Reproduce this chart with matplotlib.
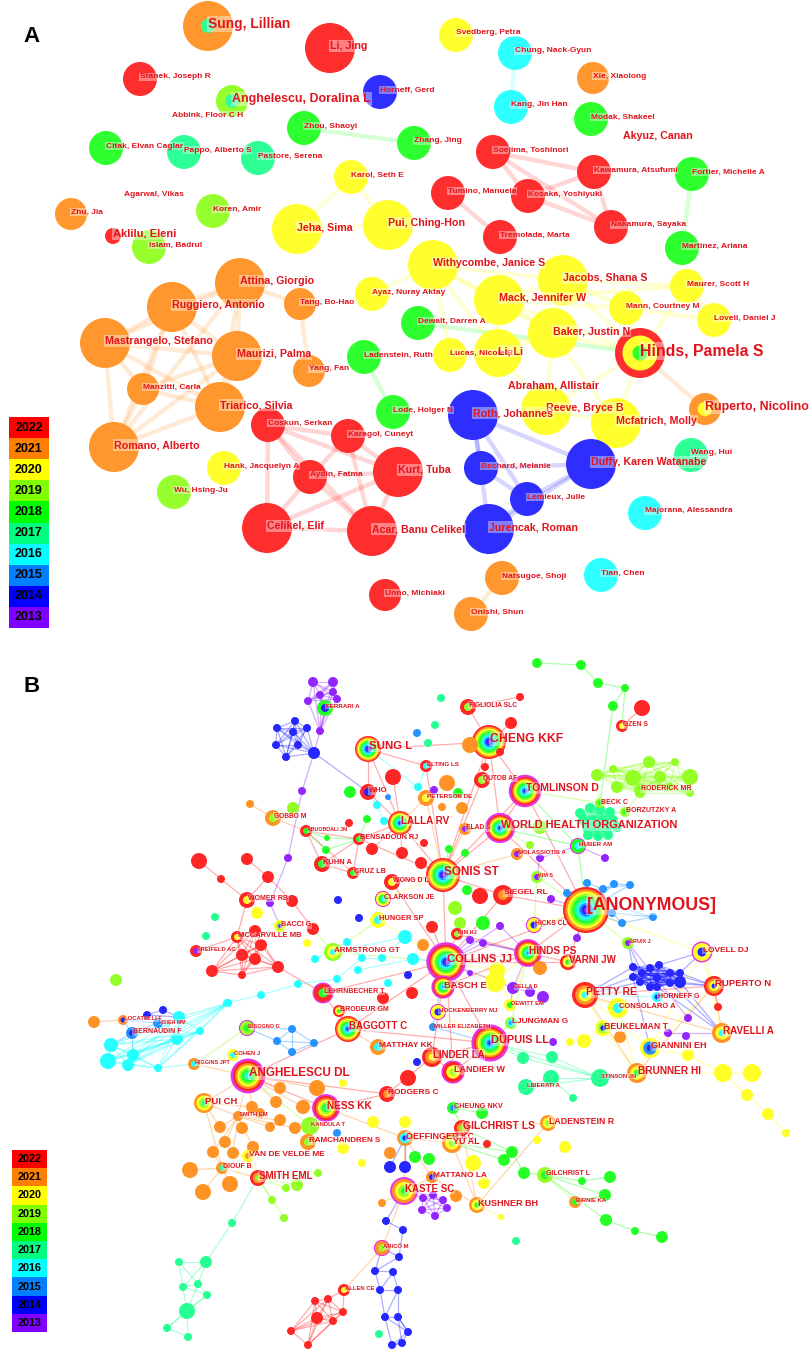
import matplotlib
matplotlib.use("Agg")
import matplotlib.pyplot as plt
from matplotlib.patches import Circle, Rectangle
from matplotlib.collections import LineCollection
from matplotlib.colors import to_rgb

# ---------------- data ----------------
YEARS = [2022, 2021, 2020, 2019, 2018, 2017, 2016, 2015, 2014, 2013]
YEAR_COLORS = ['#FF0000', '#FF8000', '#FFFF00', '#80FF00', '#00FF00',
               '#00FF80', '#00FFFF', '#0080FF', '#0000FF', '#8000FF']
COL = dict(zip(YEARS, YEAR_COLORS))
LABEL_RED = '#E0141E'
FONT = 'Liberation Sans'

# Panel A: author network (name -> year of first appearance)
A_YEARS = {
    'Sung, Lillian': 2021, 'Li, Jing': 2022, 'Stanek, Joseph R': 2022, 'Horneff, Gerd': 2014,
    'Anghelescu, Doralina L': 2019, 'Abbink, Floor C H': None, 'Zhou, Shaoyi': 2018,
    'Citak, Elvan Caglar': 2018, 'Pappo, Alberto S': 2017, 'Pastore, Serena': 2017,
    'Karol, Seth E': 2020, 'Agarwal, Vikas': None, 'Zhu, Jia': 2021, 'Koren, Amir': 2019,
    'Jeha, Sima': 2020, 'Pui, Ching-Hon': 2020, 'Aklilu, Eleni': 2022, 'Islam, Badrul': 2019,
    'Attina, Giorgio': 2021, 'Ruggiero, Antonio': 2021, 'Tang, Bo-Hao': 2021,
    'Ayaz, Nuray Aktay': 2020, 'Mastrangelo, Stefano': 2021, 'Maurizi, Palma': 2021,
    'Manzitti, Carla': 2021, 'Yang, Fan': 2021, 'Ladenstein, Ruth': 2018,
    'Triarico, Silvia': 2021, 'Romano, Alberto': 2021, 'Coskun, Serkan': 2022,
    'Karagol, Cuneyt': 2022, 'Lode, Holger N': 2018, 'Kurt, Tuba': 2022,
    'Hank, Jacquelyn A': 2020, 'Aydin, Fatma': 2022, 'Wu, Hsing-Ju': 2019,
    'Celikel, Elif': 2022, 'Acar, Banu Celikel': 2022, 'Unno, Michiaki': 2022,
    'Svedberg, Petra': 2020, 'Chung, Nack-Gyun': 2016, 'Xie, Xiaolong': 2021,
    'Kang, Jin Han': 2016, 'Modak, Shakeel': 2018, 'Akyuz, Canan': None,
    'Zhang, Jing': 2018, 'Soejima, Toshinori': 2022, 'Kawamura, Atsufumi': 2022,
    'Fortier, Michelle A': 2018, 'Tumino, Manuela': 2022, 'Kosaka, Yoshiyuki': 2022,
    'Tremolada, Marta': 2022, 'Nakamura, Sayaka': 2022, 'Martinez, Ariana': 2018,
    'Withycombe, Janice S': 2020, 'Jacobs, Shana S': 2020, 'Maurer, Scott H': 2020,
    'Mack, Jennifer W': 2020, 'Mann, Courtney M': 2020, 'Lovell, Daniel J': 2020,
    'Dewalt, Darren A': 2018, 'Baker, Justin N': 2020, 'Hinds, Pamela S': 2022,
    'Lucas, Nicole R': 2020, 'Li, Li': 2020, 'Abraham, Allistair': None,
    'Reeve, Bryce B': 2020, 'Mcfatrich, Molly': 2020, 'Ruperto, Nicolino': 2021,
    'Roth, Johannes': 2014, 'Wang, Hui': 2017, 'Bechard, Melanie': 2014,
    'Duffy, Karen Watanabe': 2014, 'Lemieux, Julie': 2014, 'Majorana, Alessandra': 2016,
    'Jurencak, Roman': 2014, 'Natsugoe, Shoji': 2021, 'Tian, Chen': 2016, 'Onishi, Shun': 2021,
}
A_INNER = {
    'Sung, Lillian': [(2017, 0.28)],
    'Anghelescu, Doralina L': [(2017, 0.42)],
    'Hinds, Pamela S': [(2020, 0.70), (2018, 0.30)],
    'Ruperto, Nicolino': [(2020, 0.45)],
}
A_EDGES = [
    ('Ruggiero, Antonio', 'Attina, Giorgio'), ('Ruggiero, Antonio', 'Mastrangelo, Stefano'),
    ('Ruggiero, Antonio', 'Maurizi, Palma'), ('Ruggiero, Antonio', 'Triarico, Silvia'),
    ('Ruggiero, Antonio', 'Romano, Alberto'), ('Ruggiero, Antonio', 'Manzitti, Carla'),
    ('Attina, Giorgio', 'Maurizi, Palma'), ('Attina, Giorgio', 'Triarico, Silvia'),
    ('Attina, Giorgio', 'Mastrangelo, Stefano'), ('Attina, Giorgio', 'Tang, Bo-Hao'),
    ('Attina, Giorgio', 'Romano, Alberto'), ('Mastrangelo, Stefano', 'Maurizi, Palma'),
    ('Mastrangelo, Stefano', 'Romano, Alberto'), ('Mastrangelo, Stefano', 'Manzitti, Carla'),
    ('Mastrangelo, Stefano', 'Triarico, Silvia'), ('Maurizi, Palma', 'Triarico, Silvia'),
    ('Maurizi, Palma', 'Manzitti, Carla'), ('Maurizi, Palma', 'Romano, Alberto'),
    ('Triarico, Silvia', 'Romano, Alberto'), ('Manzitti, Carla', 'Romano, Alberto'),
    ('Manzitti, Carla', 'Triarico, Silvia'), ('Tang, Bo-Hao', 'Yang, Fan'),
    ('Coskun, Serkan', 'Karagol, Cuneyt'), ('Coskun, Serkan', 'Aydin, Fatma'),
    ('Coskun, Serkan', 'Celikel, Elif'), ('Coskun, Serkan', 'Acar, Banu Celikel'),
    ('Coskun, Serkan', 'Kurt, Tuba'), ('Karagol, Cuneyt', 'Aydin, Fatma'),
    ('Karagol, Cuneyt', 'Kurt, Tuba'), ('Karagol, Cuneyt', 'Acar, Banu Celikel'),
    ('Aydin, Fatma', 'Celikel, Elif'), ('Aydin, Fatma', 'Acar, Banu Celikel'),
    ('Aydin, Fatma', 'Kurt, Tuba'), ('Celikel, Elif', 'Acar, Banu Celikel'),
    ('Celikel, Elif', 'Kurt, Tuba'), ('Acar, Banu Celikel', 'Kurt, Tuba'),
    ('Roth, Johannes', 'Bechard, Melanie'), ('Roth, Johannes', 'Jurencak, Roman'),
    ('Roth, Johannes', 'Duffy, Karen Watanabe'), ('Roth, Johannes', 'Lemieux, Julie'),
    ('Bechard, Melanie', 'Duffy, Karen Watanabe'), ('Bechard, Melanie', 'Lemieux, Julie'),
    ('Lemieux, Julie', 'Duffy, Karen Watanabe'), ('Jurencak, Roman', 'Duffy, Karen Watanabe'),
    ('Jurencak, Roman', 'Lemieux, Julie'),
    ('Withycombe, Janice S', 'Mack, Jennifer W'), ('Withycombe, Janice S', 'Jacobs, Shana S'),
    ('Withycombe, Janice S', 'Baker, Justin N'), ('Withycombe, Janice S', 'Ayaz, Nuray Aktay'),
    ('Withycombe, Janice S', 'Li, Li'), ('Withycombe, Janice S', 'Lucas, Nicole R'),
    ('Jacobs, Shana S', 'Mack, Jennifer W'), ('Jacobs, Shana S', 'Baker, Justin N'),
    ('Jacobs, Shana S', 'Maurer, Scott H'), ('Jacobs, Shana S', 'Mann, Courtney M'),
    ('Mack, Jennifer W', 'Baker, Justin N'), ('Mack, Jennifer W', 'Li, Li'),
    ('Mack, Jennifer W', 'Mann, Courtney M'), ('Mack, Jennifer W', 'Maurer, Scott H'),
    ('Baker, Justin N', 'Hinds, Pamela S'), ('Baker, Justin N', 'Li, Li'),
    ('Baker, Justin N', 'Lucas, Nicole R'), ('Baker, Justin N', 'Reeve, Bryce B'),
    ('Baker, Justin N', 'Mcfatrich, Molly'), ('Mack, Jennifer W', 'Hinds, Pamela S'),
    ('Jacobs, Shana S', 'Hinds, Pamela S'), ('Mann, Courtney M', 'Hinds, Pamela S'),
    ('Maurer, Scott H', 'Hinds, Pamela S'), ('Hinds, Pamela S', 'Ruperto, Nicolino'),
    ('Reeve, Bryce B', 'Hinds, Pamela S'), ('Mcfatrich, Molly', 'Hinds, Pamela S'),
    ('Reeve, Bryce B', 'Mcfatrich, Molly'), ('Li, Li', 'Reeve, Bryce B'),
    ('Karol, Seth E', 'Jeha, Sima'), ('Karol, Seth E', 'Pui, Ching-Hon'),
    ('Jeha, Sima', 'Pui, Ching-Hon'), ('Maurer, Scott H', 'Lovell, Daniel J'),
    ('Mann, Courtney M', 'Lovell, Daniel J'), ('Lucas, Nicole R', 'Li, Li'),
    ('Zhou, Shaoyi', 'Zhang, Jing'), ('Ladenstein, Ruth', 'Lode, Holger N'),
    ('Fortier, Michelle A', 'Martinez, Ariana'), ('Dewalt, Darren A', 'Hinds, Pamela S'),
    ('Chung, Nack-Gyun', 'Kang, Jin Han'),
    ('Soejima, Toshinori', 'Kawamura, Atsufumi'), ('Soejima, Toshinori', 'Kosaka, Yoshiyuki'),
    ('Soejima, Toshinori', 'Nakamura, Sayaka'), ('Kosaka, Yoshiyuki', 'Kawamura, Atsufumi'),
    ('Kosaka, Yoshiyuki', 'Nakamura, Sayaka'), ('Kawamura, Atsufumi', 'Nakamura, Sayaka'),
    ('Tumino, Manuela', 'Tremolada, Marta'), ('Natsugoe, Shoji', 'Onishi, Shun'),
]

# Panel B: cited reference network (name -> ring years, outer to inner)
def span(hi, lo):
    return list(range(hi, lo - 1, -1))

B_RINGS = {
    'FERRARI A': [2018, 2014], 'SUNG L': span(2022, 2013), 'ELTING LS': [2022, 2016],
    'WHO': [2022, 2014], 'GOBBO M': [2021, 2019], 'LALLA RV': span(2022, 2014),
    'ABUOBDALI JM': [2022, 2018], 'BENSADOUN RJ': [2022, 2018], 'KUHN A': [2022, 2018],
    'CRUZ LB': [2022, 2018], 'WONG D L': [2022, 2020], 'CLARKSON JE': [2020, 2018, 2016],
    'WOMER RB': [2022, 2020], 'HUNGER SP': [2020, 2016], 'BACCI G': [2020, 2019, 2013],
    'MCCARVILLE MB': [2022, 2020], 'FREIFELD AG': [2022, 2013], 'ARMSTRONG GT': [2019, 2020, 2016],
    'LEHRNBECHER T': [2022, 2018], 'COLLINS JJ': span(2022, 2013), 'SONIS ST': span(2022, 2013),
    'FIGLIOLIA SLC': [2022, 2019], 'OZEN S': [2022, 2020], 'CHENG KKF': span(2022, 2013),
    'QUTOB AF': [2022, 2019], 'TOMLINSON D': span(2022, 2014), 'PETERSON DE': [2021, 2020],
    'RODERICK MR': [2019, 2018], 'BECK C': [2019, 2018], 'BORZUTZKY A': [2019, 2018],
    'WORLD HEALTH ORGANIZATION': span(2022, 2014), 'ELAD S': [2021, 2013],
    'HUBER AM': [2018, 2016], 'MOLASSIOTIS A': [2021, 2013], 'KIM S': [2019, 2013],
    'SIEGEL RL': [2022, 2021], '[ANONYMOUS]': span(2022, 2013), 'HICKS CL': [2020, 2014],
    'KIM HJ': [2022, 2019], 'BRUIX J': [2019, 2013], 'LOVELL DJ': [2020, 2014],
    'HINDS PS': span(2022, 2015), 'VARNI JW': [2022, 2020, 2018], 'BASCH E': span(2022, 2015),
    'CELLA D': [2013], 'PETTY RE': [2022, 2021, 2020, 2016], 'RUPERTO N': [2022, 2021, 2020, 2014],
    'HORNEFF G': [2016, 2014], 'CONSOLARO A': [2020, 2016], 'DEWITT EM': [2020, 2018],
    'HOCKENBERRY MJ': [2020, 2014], 'LJUNGMAN G': [2019, 2016, 2015], 'MILLER ELIZABETH': [2015],
    'BEUKELMAN T': [2020, 2019, 2014], 'RAVELLI A': [2021, 2020, 2016], 'DUPUIS LL': span(2022, 2014),
    'GIANNINI EH': [2020, 2015, 2014], 'LINDER LA': [2022, 2021, 2020], 'BRUNNER HI': [2021, 2020, 2018],
    'STINSON JN': [2017], 'LANDIER W': [2022, 2020, 2019], 'LIBERATI A': [2017],
    'CHEUNG NKV': [2018, 2015], 'LADENSTEIN R': [2021, 2020, 2019], 'GILCHRIST LS': [2022, 2021, 2019],
    'OEFFINGER KC': [2021, 2016, 2014], 'YU AL': [2021, 2020, 2019], 'MATTANO LA': [2021, 2014],
    'GILCHRIST L': [2019, 2018], 'KASTE SC': [2021, 2020, 2019, 2018], 'KUSHNER BH': [2021, 2020, 2018],
    'BIRNIE KA': [2021, 2018], 'LOCATELLI F': [2021, 2014], 'HSIEH MM': [2015],
    'BERNAUDIN F': [2015, 2014], 'BISOGNO G': [2019, 2018], 'BRODEUR GM': [2022, 2020, 2018],
    'BAGGOTT C': span(2022, 2014), 'MATTHAY KK': [2021, 2016], 'COHEN J': [2020, 2016],
    'HIGGINS JPT': [2021, 2016], 'ANGHELESCU DL': span(2022, 2016), 'PUI CH': [2021, 2020, 2019, 2017],
    'RODGERS C': [2022, 2021], 'NESS KK': span(2022, 2017), 'SMITH EM': [2021],
    'KANDULA T': [2019], 'RAMCHANDREN S': [2021, 2019], 'VAN DE VELDE ME': [2020, 2021],
    'DIOUF B': [2021, 2017], 'SMITH EML': [2022, 2021, 2019], 'ARICÒ M': [2021, 2019],
    'ALLEN CE': [2022, 2020],
}
B_CENTRAL = ['CLARKSON JE', 'LEHRNBECHER T', 'COLLINS JJ', 'TOMLINSON D', 'WORLD HEALTH ORGANIZATION',
             'HUBER AM', 'HICKS CL', 'LOVELL DJ', 'HINDS PS', 'BASCH E', 'HOCKENBERRY MJ',
             'DUPUIS LL', 'LANDIER W', 'KASTE SC', 'BISOGNO G', 'ANGHELESCU DL', 'NESS KK', 'ARICÒ M']

B_GROUP_YEARS = {
    'top_purple': 2013, 'top_blue': 2014, 'purple_chain': 2013, 'top_green': 2018, 'top_red': 2022,
    'lime': 2019, 'teal': 2017, 'anon_blue': 2015, 'right_blue': 2014, 'left_red': 2022,
    'left_red2': 2022, 'mid_red': 2022, 'mid_green': 2018, 'mid_lime': 2019, 'cyan_mid': 2016,
    'cyan_left': 2016, 'blue_left': 2014, 'blue15': 2015, 'misc15': 2015, 'misc_blue': 2014,
    'purple_mid': 2013, 'yellow_mid': 2020, 'yellow_right': 2020, 'teal_mid': 2017,
    'green_low': 2018, 'orange_mid': 2021, 'orange_cl': 2021, 'lime_low': 2019,
    'purple_low': 2013, 'blue_col': 2014, 'red_low': 2022, 'teal_low': 2017,
}
B_GROUP_MODE = {'top_purple': 'clique', 'top_blue': 'clique', 'purple_chain': 'chain',
                'top_green': 'chain', 'lime': 'clique', 'teal': 'clique', 'anon_blue': 'chain',
                'right_blue': 'clique', 'left_red2': 'clique', 'cyan_left': 'clique',
                'blue_left': 'chain', 'blue15': 'clique', 'purple_low': 'clique',
                'blue_col': 'chain', 'red_low': 'clique', 'teal_low': 'chain'}

B_EDGES = []
def hub(center, others):
    for o in others:
        B_EDGES.append((center, o))

hub('COLLINS JJ', ['SONIS ST', 'BASCH E', 'HINDS PS', 'DUPUIS LL', 'LINDER LA', 'HUNGER SP',
                   'ARMSTRONG GT', 'KIM HJ', 'HOCKENBERRY MJ', 'CELLA D', '[ANONYMOUS]',
                   'LEHRNBECHER T', 'BAGGOTT C', 'WONG D L', 'SIEGEL RL', 'MILLER ELIZABETH',
                   'LANDIER W', 'VARNI JW', 'purple_mid:5', 'purple_mid:6', 'purple_mid:7',
                   'purple_mid:8', 'yellow_mid:2', 'yellow_mid:3', 'mid_red:6', 'cyan_mid:10'])
hub('SONIS ST', ['LALLA RV', 'WORLD HEALTH ORGANIZATION', 'TOMLINSON D', 'ELAD S', 'PETERSON DE',
                 'CHENG KKF', 'BENSADOUN RJ', 'QUTOB AF', 'SIEGEL RL', 'CLARKSON JE', 'WONG D L',
                 'ELTING LS', 'MOLASSIOTIS A', 'mid_red:3', 'mid_green:4'])
hub('[ANONYMOUS]', ['HICKS CL', 'SIEGEL RL', 'HINDS PS', 'LOVELL DJ', 'BRUIX J', 'KIM S', 'HUBER AM',
                    'WORLD HEALTH ORGANIZATION', 'VARNI JW', 'TOMLINSON D', 'purple_mid:2',
                    'purple_mid:3'] + ['anon_blue:%d' % i for i in range(8)])
hub('SUNG L', ['WHO', 'LALLA RV', 'ELTING LS', 'CHENG KKF', 'cyan_mid:2'])
hub('CHENG KKF', ['FIGLIOLIA SLC', 'QUTOB AF', 'TOMLINSON D', 'WORLD HEALTH ORGANIZATION',
                  'orange_mid:0', 'top_red:2', 'top_red:3'])
hub('TOMLINSON D', ['WORLD HEALTH ORGANIZATION', 'HUBER AM', 'BECK C'])
hub('HINDS PS', ['VARNI JW', 'CELLA D', 'DEWITT EM', 'BASCH E', 'LJUNGMAN G', 'purple_mid:5',
                 'purple_mid:6', 'purple_mid:8', 'yellow_mid:2', 'KIM HJ'])
hub('DUPUIS LL', ['LINDER LA', 'LANDIER W', 'BAGGOTT C', 'LJUNGMAN G', 'MILLER ELIZABETH',
                  'HOCKENBERRY MJ', 'STINSON JN', 'teal_mid:2', 'teal_mid:3'])
hub('PETTY RE', ['RUPERTO N', 'RAVELLI A', 'BEUKELMAN T', 'GIANNINI EH', 'CONSOLARO A', 'BRUNNER HI',
                 'HORNEFF G', 'right_blue:0', 'right_blue:9', 'right_blue:10'])
hub('RUPERTO N', ['RAVELLI A', 'LOVELL DJ', 'GIANNINI EH', 'BRUNNER HI', 'right_blue:4',
                  'right_blue:5', 'right_blue:6', 'right_blue:12', 'mid_red:10'])
hub('LOVELL DJ', ['RAVELLI A', 'GIANNINI EH', 'right_blue:3', 'right_blue:5'])
hub('BRUNNER HI', ['GIANNINI EH', 'BEUKELMAN T', 'STINSON JN', 'CONSOLARO A', 'yellow_right:0'])
hub('RAVELLI A', ['right_blue:6', 'right_blue:11', 'right_blue:12', 'purple_mid:12'])
hub('ANGHELESCU DL', ['PUI CH', 'NESS KK', 'SMITH EM', 'BAGGOTT C', 'RODGERS C', 'COHEN J',
                      'HIGGINS JPT', 'KANDULA T'] + ['orange_cl:%d' % i for i in range(5)])
hub('NESS KK', ['RAMCHANDREN S', 'KANDULA T', 'RODGERS C', 'OEFFINGER KC', 'orange_cl:1',
                'orange_cl:4', 'orange_cl:10'])
hub('PUI CH', ['SMITH EM', 'DIOUF B', 'orange_cl:8', 'orange_cl:3'])
hub('SMITH EM', ['orange_cl:%d' % i for i in range(5, 15)])
hub('DIOUF B', ['orange_cl:15', 'orange_cl:16', 'orange_cl:17', 'orange_cl:12'])
hub('VAN DE VELDE ME', ['orange_cl:13', 'orange_cl:14', 'orange_cl:16', 'SMITH EML'])
hub('KASTE SC', ['OEFFINGER KC', 'MATTANO LA', 'ARICÒ M', 'blue_col:0', 'purple_low:0',
                 'purple_low:1', 'orange_mid:11'])
hub('OEFFINGER KC', ['misc_blue:4', 'misc_blue:5', 'YU AL', 'MATTANO LA'])
hub('LINDER LA', ['RODGERS C', 'LANDIER W'])
hub('GILCHRIST LS', ['YU AL', 'CHEUNG NKV', 'KUSHNER BH', 'LADENSTEIN R', 'green_low:1'])
hub('KUSHNER BH', ['YU AL', 'LADENSTEIN R', 'MATTANO LA', 'yellow_mid:11'])
hub('SMITH EML', ['DIOUF B', 'teal_low:0'] + ['lime_low:%d' % i for i in range(5)])
hub('BAGGOTT C', ['MATTHAY KK', 'BRODEUR GM', 'LEHRNBECHER T'])
hub('HUNGER SP', ['ARMSTRONG GT', 'CLARKSON JE'])
hub('KUHN A', ['BENSADOUN RJ', 'CRUZ LB', 'ABUOBDALI JM'])
hub('ABUOBDALI JM', ['BENSADOUN RJ', 'CRUZ LB', 'GOBBO M', 'mid_green:2', 'mid_green:3'])
hub('BENSADOUN RJ', ['CRUZ LB', 'LALLA RV', 'mid_green:1', 'mid_green:2', 'mid_green:3'])
hub('LALLA RV', ['WHO', 'mid_red:0', 'mid_red:1', 'mid_red:2', 'PETERSON DE'])
hub('WOMER RB', ['MCCARVILLE MB', 'left_red:1', 'left_red:3'])
hub('MCCARVILLE MB', ['FREIFELD AG'] + ['left_red2:%d' % i for i in range(7)])
hub('LOCATELLI F', ['HSIEH MM', 'BERNAUDIN F', 'orange_mid:9'])
hub('BERNAUDIN F', ['cyan_left:0', 'cyan_left:3', 'HSIEH MM'])
hub('BISOGNO G', ['blue15:0', 'blue15:1', 'HIGGINS JPT'])
hub('STINSON JN', ['LIBERATI A', 'teal_mid:2', 'teal_mid:3', 'teal_mid:4'])
hub('GILCHRIST L', ['BIRNIE KA', 'green_low:3', 'green_low:4', 'green_low:7', 'green_low:6'])
hub('YU AL', ['green_low:1', 'green_low:2'])
hub('CHEUNG NKV', ['green_low:0'])
hub('BECK C', ['lime:0', 'teal:0', 'teal:1', 'top_green:4'])
hub('RODERICK MR', ['lime:8', 'lime:6'])
hub('BORZUTZKY A', ['lime:8', 'teal:3'])
hub('WORLD HEALTH ORGANIZATION', ['teal:4', 'mid_lime:0', 'mid_lime:1', 'ELAD S', 'HUBER AM'])
hub('HUBER AM', ['purple_mid:0', 'purple_mid:1', 'teal:12'])
hub('KIM S', ['purple_mid:0', 'HICKS CL'])
hub('CELLA D', ['purple_mid:9', 'DEWITT EM'])
hub('BRUIX J', ['purple_mid:11', 'right_blue:0', 'right_blue:1'])
hub('GIANNINI EH', ['yellow_mid:6', 'right_blue:10'])
hub('ARICÒ M', ['ALLEN CE', 'blue_col:2', 'blue_col:3'])
hub('ALLEN CE', ['red_low:1', 'red_low:2'])
hub('FERRARI A', ['top_purple:6', 'top_purple:2'])
B_EDGES += [
    ('top_purple:6', 'top_blue:7'), ('top_blue:7', 'purple_chain:0'), ('purple_chain:2', 'BACCI G'),
    ('top_blue:7', 'WHO'), ('left_red:0', 'left_red:1'), ('left_red:2', 'left_red:3'),
    ('left_red:3', 'left_red:4'), ('left_red:4', 'left_red:5'), ('left_red:5', 'ARMSTRONG GT'),
    ('left_red2:6', 'LEHRNBECHER T'), ('cyan_left:8', 'cyan_mid:14'), ('cyan_mid:14', 'cyan_mid:13'),
    ('cyan_mid:13', 'cyan_mid:3'), ('cyan_mid:3', 'cyan_mid:4'), ('cyan_mid:4', 'cyan_mid:7'),
    ('cyan_mid:6', 'cyan_mid:7'), ('cyan_mid:7', 'cyan_mid:8'), ('cyan_mid:8', 'cyan_mid:12'),
    ('cyan_mid:9', 'cyan_mid:10'), ('cyan_mid:12', 'ARMSTRONG GT'), ('cyan_mid:5', 'cyan_mid:6'),
    ('cyan_mid:0', 'cyan_mid:1'), ('cyan_mid:1', 'LALLA RV'), ('HIGGINS JPT', 'cyan_left:4'),
    ('yellow_right:0', 'yellow_right:1'), ('yellow_right:0', 'yellow_right:2'),
    ('yellow_right:2', 'yellow_right:3'), ('yellow_right:3', 'yellow_right:4'),
    ('yellow_mid:6', 'yellow_right:0'), ('DEWITT EM', 'yellow_mid:3'), ('BEUKELMAN T', 'yellow_mid:5'),
    ('yellow_mid:4', 'yellow_mid:5'), ('green_low:4', 'green_low:5'), ('green_low:7', 'green_low:8'),
    ('green_low:8', 'green_low:9'), ('green_low:1', 'green_low:3'), ('green_low:6', 'BIRNIE KA'),
    ('teal_mid:4', 'teal_mid:5'), ('LIBERATI A', 'teal_mid:4'),
    ('teal_low:1', 'teal_low:3'), ('teal_low:1', 'teal_low:4'), ('teal_low:2', 'teal_low:4'),
    ('teal_low:3', 'teal_low:5'), ('teal_low:4', 'teal_low:6'), ('teal_low:5', 'teal_low:6'),
    ('teal_low:6', 'teal_low:7'), ('teal_low:6', 'teal_low:8'), ('teal_low:3', 'teal_low:6'),
    ('blue_col:3', 'blue_col:5'), ('blue_col:4', 'blue_col:6'), ('blue_col:7', 'blue_col:9'),
    ('blue_col:7', 'blue_col:10'), ('blue_col:8', 'blue_col:11'), ('blue_col:9', 'blue_col:11'),
    ('blue_col:10', 'blue_col:11'), ('blue_col:8', 'blue_col:9'), ('blue_col:5', 'blue_col:7'),
    ('blue_col:6', 'blue_col:8'), ('OZEN S', 'top_red:0'), ('OZEN S', 'top_green:3'),
    ('FIGLIOLIA SLC', 'top_red:1'), ('GOBBO M', 'orange_mid:5'), ('mid_lime:2', 'GOBBO M'),
    ('ELTING LS', 'cyan_mid:2'), ('WHO', 'cyan_mid:0'), ('blue_left:0', 'cyan_left:6'),
    ('blue_left:1', 'cyan_left:6'),
]

# ---------------- layout (pixel positions, radii, font sizes) ----------------
A_LAYOUT = {
    'Sung, Lillian': (208, 26, 25, 9.9), 'Li, Jing': (330, 48, 25, 7.7),
    'Stanek, Joseph R': (140, 79, 17, 6), 'Horneff, Gerd': (380, 92, 17, 6),
    'Anghelescu, Doralina L': (232, 101, 16, 8.9), 'Abbink, Floor C H': (172, 117, 0, 6),
    'Zhou, Shaoyi': (304, 128, 17, 6), 'Citak, Elvan Caglar': (106, 148, 17, 6),
    'Pappo, Alberto S': (184, 152, 17, 6), 'Pastore, Serena': (258, 158, 17, 6),
    'Karol, Seth E': (351, 177, 17, 6), 'Agarwal, Vikas': (124, 197, 0, 6),
    'Zhu, Jia': (71, 214, 16, 6), 'Koren, Amir': (213, 211, 17, 6),
    'Jeha, Sima': (297, 229, 25, 7.7), 'Pui, Ching-Hon': (388, 225, 25, 7.7),
    'Aklilu, Eleni': (113, 236, 8, 8), 'Islam, Badrul': (149, 247, 17, 6),
    'Attina, Giorgio': (240, 283, 25, 7.7), 'Ruggiero, Antonio': (172, 307, 25, 7.7),
    'Tang, Bo-Hao': (300, 304, 16, 6), 'Ayaz, Nuray Aktay': (372, 294, 17, 6),
    'Mastrangelo, Stefano': (105, 343, 25, 7.7), 'Maurizi, Palma': (237, 356, 25, 7.7),
    'Manzitti, Carla': (143, 389, 16, 6), 'Yang, Fan': (309, 371, 16, 6),
    'Ladenstein, Ruth': (364, 357, 17, 6), 'Triarico, Silvia': (220, 407, 25, 7.7),
    'Romano, Alberto': (114, 447, 25, 7.7), 'Coskun, Serkan': (268, 425, 17, 6),
    'Karagol, Cuneyt': (348, 436, 17, 6), 'Lode, Holger N': (393, 412, 17, 6),
    'Kurt, Tuba': (398, 472, 25, 7.7), 'Hank, Jacquelyn A': (224, 468, 17, 6),
    'Aydin, Fatma': (310, 477, 17, 6), 'Wu, Hsing-Ju': (174, 492, 17, 6),
    'Celikel, Elif': (267, 528, 25, 7.7), 'Acar, Banu Celikel': (372, 531, 25, 7.7),
    'Unno, Michiaki': (385, 595, 16, 6), 'Svedberg, Petra': (456, 35, 17, 6),
    'Chung, Nack-Gyun': (515, 53, 17, 6), 'Xie, Xiaolong': (593, 78, 16, 6),
    'Kang, Jin Han': (511, 107, 17, 6), 'Modak, Shakeel': (591, 119, 17, 6),
    'Akyuz, Canan': (623, 138, 0, 7.7), 'Zhang, Jing': (414, 143, 17, 6),
    'Soejima, Toshinori': (493, 152, 17, 6), 'Kawamura, Atsufumi': (594, 172, 17, 6),
    'Fortier, Michelle A': (692, 174, 17, 6), 'Tumino, Manuela': (448, 193, 17, 6),
    'Kosaka, Yoshiyuki': (528, 196, 17, 6), 'Tremolada, Marta': (500, 237, 17, 6),
    'Nakamura, Sayaka': (611, 227, 17, 6), 'Martinez, Ariana': (682, 248, 17, 6),
    'Withycombe, Janice S': (433, 265, 25, 7.7), 'Jacobs, Shana S': (563, 280, 25, 7.7),
    'Maurer, Scott H': (687, 286, 17, 6), 'Mack, Jennifer W': (499, 300, 25, 7.7),
    'Mann, Courtney M': (626, 308, 17, 6), 'Lovell, Daniel J': (714, 320, 17, 6),
    'Dewalt, Darren A': (418, 323, 17, 6), 'Baker, Justin N': (553, 333, 25, 7.7),
    'Hinds, Pamela S': (640, 353, 25, 11.4), 'Lucas, Nicole R': (450, 355, 17, 6),
    'Li, Li': (498, 353, 24, 7.7), 'Abraham, Allistair': (508, 387, 0, 7.7),
    'Reeve, Bryce B': (546, 410, 25, 7.7), 'Mcfatrich, Molly': (616, 423, 25, 7.7),
    'Ruperto, Nicolino': (705, 409, 16, 8.9), 'Roth, Johannes': (473, 415, 25, 7.7),
    'Wang, Hui': (691, 455, 17, 6), 'Bechard, Melanie': (481, 468, 17, 6),
    'Duffy, Karen Watanabe': (591, 464, 25, 7.7), 'Lemieux, Julie': (527, 499, 17, 6),
    'Majorana, Alessandra': (645, 513, 17, 6), 'Jurencak, Roman': (489, 529, 25, 7.7),
    'Natsugoe, Shoji': (502, 578, 17, 6), 'Tian, Chen': (601, 575, 17, 6),
    'Onishi, Shun': (471, 614, 17, 6),
}

B_LAYOUT = {
    'FERRARI A': (325, 708, 8, 4.5), 'SUNG L': (368, 749, 13, 8.2), 'ELTING LS': (426, 766, 6, 4.5),
    'WHO': (368, 792, 8, 5.5), 'GOBBO M': (273, 818, 8, 4.8), 'LALLA RV': (400, 823, 12, 7.1),
    'ABUOBDALI JM': (306, 831, 6, 3.8), 'BENSADOUN RJ': (359, 839, 6, 5.2), 'KUHN A': (322, 864, 8, 5.4),
    'CRUZ LB': (353, 873, 6, 5.2), 'WONG D L': (392, 882, 8, 5.0), 'CLARKSON JE': (383, 899, 7, 5.0),
    'WOMER RB': (247, 900, 8, 5.0), 'HUNGER SP': (378, 920, 8, 5.4), 'BACCI G': (280, 926, 6, 5.2),
    'MCCARVILLE MB': (237, 937, 6, 5.5), 'FREIFELD AG': (196, 951, 6, 4.2),
    'ARMSTRONG GT': (333, 952, 9, 5.8), 'LEHRNBECHER T': (323, 993, 9, 5.0),
    'COLLINS JJ': (446, 962, 17, 8.1), 'SONIS ST': (443, 875, 17, 8.5),
    'FIGLIOLIA SLC': (468, 707, 8, 4.8), 'OZEN S': (622, 726, 6, 4.8), 'CHENG KKF': (489, 742, 17, 8.8),
    'QUTOB AF': (482, 780, 8, 4.8), 'TOMLINSON D': (525, 791, 14, 7.5), 'PETERSON DE': (426, 798, 8, 4.6),
    'RODERICK MR': (640, 790, 6, 5.0), 'BECK C': (600, 803, 5, 5.0), 'BORZUTZKY A': (625, 812, 5, 5.0),
    'WORLD HEALTH ORGANIZATION': (500, 828, 13, 7.9), 'ELAD S': (465, 829, 6, 4.8),
    'HUBER AM': (578, 846, 7, 4.5), 'MOLASSIOTIS A': (517, 854, 6, 4.4), 'KIM S': (537, 877, 6, 3.9),
    'SIEGEL RL': (503, 895, 10, 6.0), '[ANONYMOUS]': (586, 910, 23, 12.8), 'HICKS CL': (534, 925, 7, 4.8),
    'KIM HJ': (457, 934, 6, 4.0), 'BRUIX J': (628, 943, 6, 4.0), 'LOVELL DJ': (702, 952, 9, 6.0),
    'HINDS PS': (528, 953, 12, 7.3), 'VARNI JW': (568, 962, 8, 7.0), 'BASCH E': (443, 987, 10, 6.8),
    'CELLA D': (513, 988, 6, 4.0), 'PETTY RE': (585, 995, 13, 7.5), 'RUPERTO N': (714, 986, 10, 6.8),
    'HORNEFF G': (657, 997, 5, 5.0), 'CONSOLARO A': (618, 1008, 10, 5.5), 'DEWITT EM': (510, 1005, 6, 4.2),
    'HOCKENBERRY MJ': (438, 1012, 7, 4.5), 'LJUNGMAN G': (511, 1023, 6, 6.0),
    'MILLER ELIZABETH': (433, 1027, 4, 4.2), 'BEUKELMAN T': (603, 1028, 8, 6.3),
    'RAVELLI A': (722, 1033, 10, 7.1), 'DUPUIS LL': (490, 1043, 16, 7.9), 'GIANNINI EH': (650, 1048, 10, 6.5),
    'LINDER LA': (432, 1057, 10, 7.0), 'BRUNNER HI': (637, 1073, 10, 7.3), 'STINSON JN': (600, 1078, 9, 4.2),
    'LANDIER W': (453, 1072, 10, 6.5), 'LIBERATI A': (526, 1087, 8, 4.3), 'CHEUNG NKV': (453, 1108, 6, 5.2),
    'LADENSTEIN R': (548, 1123, 8, 6.3), 'GILCHRIST LS': (462, 1128, 8, 7.5),
    'OEFFINGER KC': (405, 1138, 8, 6.5), 'YU AL': (452, 1143, 10, 6.5), 'MATTANO LA': (432, 1177, 6, 6.0),
    'GILCHRIST L': (545, 1175, 8, 5.0), 'KASTE SC': (404, 1191, 12, 7.0), 'KUSHNER BH': (477, 1205, 8, 6.5),
    'BIRNIE KA': (575, 1202, 6, 4.2), 'LOCATELLI F': (123, 1020, 5, 4.2), 'HSIEH MM': (158, 1023, 5, 3.8),
    'BERNAUDIN F': (132, 1033, 6, 5.0), 'BISOGNO G': (247, 1028, 7, 4.0), 'BRODEUR GM': (339, 1011, 6, 5.0),
    'BAGGOTT C': (348, 1029, 13, 7.0), 'MATTHAY KK': (378, 1047, 8, 6.0), 'COHEN J': (233, 1055, 6, 4.2),
    'HIGGINS JPT': (194, 1064, 6, 4.0), 'ANGHELESCU DL': (248, 1076, 15, 8.5), 'PUI CH': (204, 1103, 10, 6.8),
    'RODGERS C': (387, 1094, 8, 6.0), 'NESS KK': (326, 1108, 12, 7.3), 'SMITH EM': (238, 1116, 5, 4.2),
    'KANDULA T': (310, 1126, 9, 4.2), 'RAMCHANDREN S': (308, 1142, 8, 5.8),
    'VAN DE VELDE ME': (248, 1156, 6, 6.0), 'DIOUF B': (222, 1168, 6, 5.0), 'SMITH EML': (258, 1178, 8, 7.0),
    'ARICÒ M': (382, 1248, 7, 4.2), 'ALLEN CE': (344, 1290, 6, 4.2),
}

B_GROUP_LAYOUT = {
    'top_purple': [(313, 682, 5), (333, 682, 5), (320, 695, 4), (333, 692, 4), (308, 701, 4),
                   (337, 699, 4), (320, 731, 4)],
    'top_blue': [(295, 721, 4), (277, 728, 4), (293, 732, 4), (307, 728, 4), (276, 745, 4),
                 (298, 745, 4), (286, 757, 4), (314, 753, 6)],
    'purple_chain': [(302, 791, 4), (288, 858, 4), (270, 903, 4)],
    'top_green': [(537, 663, 5), (581, 665, 5), (598, 683, 5), (625, 688, 4), (613, 706, 5)],
    'top_red': [(642, 708, 8), (520, 697, 4), (511, 723, 6), (500, 752, 4), (485, 767, 4)],
    'lime': [(597, 775, 6), (613, 769, 4), (633, 778, 8), (649, 762, 6), (675, 762, 4), (660, 777, 6),
             (690, 777, 8), (617, 787, 6), (640, 793, 5), (690, 793, 4), (670, 787, 4)],
    'teal': [(580, 813, 5), (590, 808, 5), (600, 810, 5), (610, 812, 5), (583, 820, 5), (593, 820, 5),
             (603, 820, 5), (613, 820, 5), (587, 828, 5), (597, 828, 5), (607, 828, 5), (617, 827, 5),
             (588, 835, 5), (598, 836, 5), (608, 835, 5)],
    'anon_blue': [(587, 883, 4), (603, 889, 4), (614, 884, 4), (630, 885, 4), (567, 893, 4),
                  (653, 917, 4), (622, 923, 4), (612, 913, 4)],
    'right_blue': [(633, 967, 4), (642, 973, 4), (650, 968, 4), (659, 965, 4), (670, 973, 4),
                   (680, 973, 4), (680, 982, 6), (657, 978, 4), (650, 987, 4), (640, 982, 4),
                   (633, 977, 4), (657, 987, 4), (670, 983, 4)],
    'left_red': [(199, 861, 8), (221, 879, 4), (247, 859, 6), (268, 877, 6), (292, 901, 6), (313, 929, 6)],
    'left_red2': [(255, 931, 6), (261, 945, 6), (242, 955, 6), (255, 959, 6), (212, 971, 6),
                  (242, 975, 4), (278, 967, 6)],
    'mid_red': [(393, 777, 8), (372, 849, 6), (402, 853, 6), (421, 863, 6), (424, 843, 4), (349, 823, 4),
                (432, 927, 6), (412, 993, 6), (383, 998, 6), (480, 896, 8), (718, 1007, 4),
                (487, 1144, 4), (408, 1078, 8)],
    'mid_green': [(350, 792, 6), (367, 819, 4), (327, 838, 3), (326, 850, 4), (449, 849, 4),
                  (465, 853, 4), (458, 793, 5), (467, 890, 5), (483, 923, 7), (415, 1157, 6),
                  (429, 1159, 6)],
    'mid_lime': [(540, 827, 7), (530, 845, 4), (293, 808, 6), (455, 908, 7), (460, 923, 6),
                 (116, 980, 6)],
    'cyan_mid': [(377, 805, 4), (384, 821, 4), (418, 787, 4), (298, 984, 4), (337, 979, 4),
                 (315, 959, 4), (347, 942, 4), (362, 958, 4), (382, 958, 4), (358, 970, 4),
                 (413, 959, 6), (388, 983, 4), (405, 937, 7), (261, 995, 4), (227, 1003, 4)],
    'cyan_left': [(111, 1045, 7), (108, 1061, 8), (128, 1065, 6), (133, 1055, 6), (158, 1068, 4),
                  (177, 1039, 6), (179, 1017, 6), (200, 1031, 4), (228, 1003, 4)],
    'blue_left': [(147, 1015, 4), (163, 1010, 4)],
    'blue15': [(292, 1029, 4), (277, 1041, 4), (292, 1052, 4), (314, 1043, 4)],
    'misc15': [(417, 733, 4), (388, 797, 3), (337, 1133, 4)],
    'misc_blue': [(338, 900, 4), (359, 918, 4), (408, 975, 4), (417, 1062, 4), (390, 1167, 6),
                  (405, 1167, 6)],
    'purple_mid': [(540, 858, 4), (605, 858, 4), (551, 899, 4), (577, 938, 4), (434, 790, 4),
                   (470, 940, 4), (483, 943, 4), (470, 973, 3), (500, 926, 4), (530, 992, 5),
                   (543, 997, 6), (688, 1018, 4), (668, 1033, 4), (686, 1036, 4), (553, 1042, 4)],
    'yellow_mid': [(257, 913, 6), (307, 943, 4), (495, 982, 10), (497, 970, 8), (570, 1042, 4),
                   (584, 1041, 7), (688, 1055, 6), (537, 1140, 4), (565, 1147, 6), (473, 1163, 8),
                   (484, 1183, 6), (501, 1217, 3), (343, 1083, 4), (373, 1122, 6), (405, 1122, 6),
                   (343, 1148, 6), (362, 1163, 4)],
    'yellow_right': [(723, 1073, 9), (752, 1073, 9), (747, 1095, 6), (768, 1114, 6), (786, 1133, 4)],
    'teal_mid': [(215, 917, 4), (206, 936, 4), (523, 1058, 6), (552, 1057, 6), (551, 1078, 8),
                 (573, 1098, 4), (516, 1241, 4), (441, 698, 4), (435, 725, 4), (428, 743, 4),
                 (379, 1334, 4)],
    'green_low': [(482, 1113, 6), (512, 1152, 6), (504, 1160, 6), (524, 1173, 6), (582, 1181, 4),
                  (610, 1177, 6), (605, 1195, 6), (606, 1220, 6), (635, 1231, 4), (662, 1237, 6)],
    'orange_mid': [(470, 745, 8), (447, 783, 8), (442, 807, 4), (462, 808, 6), (423, 945, 6),
                   (250, 804, 4), (540, 968, 7), (620, 1037, 6), (456, 1196, 6), (94, 1022, 6),
                   (390, 1153, 6), (382, 1203, 4)],
    'orange_cl': [(280, 1088, 6), (317, 1088, 8), (276, 1102, 6), (252, 1107, 6), (303, 1107, 7),
                  (260, 1113, 5), (280, 1120, 6), (270, 1127, 5), (220, 1127, 6), (242, 1128, 6),
                  (295, 1128, 6), (225, 1142, 6), (213, 1152, 6), (233, 1153, 6), (253, 1147, 6),
                  (190, 1170, 8), (230, 1184, 8), (203, 1192, 8)],
    'lime_low': [(272, 1200, 4), (284, 1218, 4), (286, 1188, 4), (297, 1185, 6), (318, 1173, 4)],
    'purple_low': [(423, 1198, 4), (433, 1195, 4), (443, 1200, 4), (447, 1208, 4), (435, 1216, 4),
                   (422, 1210, 4)],
    'blue_col': [(386, 1221, 4), (403, 1230, 4), (399, 1257, 4), (375, 1271, 4), (393, 1272, 4),
                 (380, 1290, 4), (398, 1290, 4), (385, 1317, 4), (398, 1317, 4), (408, 1332, 4),
                 (392, 1345, 4), (402, 1343, 4)],
    'red_low': [(315, 1301, 4), (328, 1299, 4), (343, 1312, 4), (317, 1318, 6), (333, 1321, 4),
                (291, 1331, 4), (308, 1345, 4)],
    'teal_low': [(232, 1223, 4), (206, 1262, 6), (179, 1262, 4), (198, 1284, 4), (183, 1287, 4),
                 (207, 1295, 4), (187, 1311, 8), (167, 1328, 4), (188, 1337, 4)],
}

# ---------------- drawing ----------------
W, H = 812, 1353
fig = plt.figure(figsize=(W / 100, H / 100), dpi=100)
ax = fig.add_axes([0, 0, 1, 1])
ax.set_xlim(0, W)
ax.set_ylim(H, 0)
ax.axis('off')


def soft(color, a=0.82):
    c = to_rgb(color)
    return tuple(a * v + (1 - a) for v in c)


def edge_rgba(year, alpha):
    c = to_rgb(COL[year])
    return (c[0], c[1], c[2], alpha)


def label(x, y, text, fs, z=6):
    ax.text(x, y, text, fontsize=fs, fontweight='bold', color=LABEL_RED, family=FONT,
            ha='left', va='center', zorder=z,
            bbox=dict(boxstyle='square,pad=0.08', fc='white', ec='none', alpha=0.4))


# ----- Panel A -----
segs, cols = [], []
for a, b in A_EDGES:
    xa, ya = A_LAYOUT[a][:2]
    xb, yb = A_LAYOUT[b][:2]
    yr = min(A_YEARS[a], A_YEARS[b])
    segs.append([(xa, ya), (xb, yb)])
    cols.append(edge_rgba(yr, 0.16))
ax.add_collection(LineCollection(segs, colors=cols, linewidths=3.2, zorder=1,
                                 capstyle='round'))

for name, (x, y, r, fs) in sorted(A_LAYOUT.items(), key=lambda kv: -kv[1][2]):
    yr = A_YEARS[name]
    if r > 0 and yr is not None:
        ax.add_patch(Circle((x, y), r, fc=soft(COL[yr]), ec='none', zorder=2))
        for iy, frac in A_INNER.get(name, []):
            ax.add_patch(Circle((x, y), r * frac, fc=soft(COL[iy]), ec='none', zorder=2))
for name, (x, y, r, fs) in A_LAYOUT.items():
    label(x, y - 2, name, fs)

ax.text(32, 37, 'A', fontsize=16, fontweight='bold', family=FONT, ha='center', va='center')

# ----- Panel B -----
def ref_info(ref):
    if ref in B_LAYOUT:
        x, y, r, fs = B_LAYOUT[ref]
        return x, y, B_RINGS[ref][0]
    g, i = ref.rsplit(':', 1)
    x, y, r = B_GROUP_LAYOUT[g][int(i)]
    return x, y, B_GROUP_YEARS[g]


pairs = list(B_EDGES)
for g, mode in B_GROUP_MODE.items():
    n = len(B_GROUP_LAYOUT[g])
    if mode == 'clique':
        pairs += [('%s:%d' % (g, i), '%s:%d' % (g, j)) for i in range(n) for j in range(i + 1, n)]
    elif mode == 'chain':
        pairs += [('%s:%d' % (g, i), '%s:%d' % (g, i + 1)) for i in range(n - 1)]

segs, cols = [], []
for a, b in pairs:
    xa, ya, yra = ref_info(a)
    xb, yb, yrb = ref_info(b)
    segs.append([(xa, ya), (xb, yb)])
    cols.append(edge_rgba(min(yra, yrb), 0.32))
ax.add_collection(LineCollection(segs, colors=cols, linewidths=0.9, zorder=1))

nodes = []
for g, pts in B_GROUP_LAYOUT.items():
    for (x, y, r) in pts:
        nodes.append((r, x, y, [B_GROUP_YEARS[g]], False))
for name, (x, y, r, fs) in B_LAYOUT.items():
    nodes.append((r, x, y, B_RINGS[name], name in B_CENTRAL))
nodes.sort(key=lambda t: -t[0])
for r, x, y, rings, central in nodes:
    if central:
        ax.add_patch(Circle((x, y), r * 1.16, fc=soft('#E010E0', 0.85), ec='none', zorder=2))
    n = len(rings)
    for k, yr in enumerate(rings):
        ax.add_patch(Circle((x, y), r * (n - k) / n, fc=soft(COL[yr], 0.85), ec='none', zorder=2))

for name, (x, y, r, fs) in B_LAYOUT.items():
    label(x + 1, y - 0.2 * r, name, fs)

ax.text(32, 687, 'B', fontsize=16, fontweight='bold', family=FONT, ha='center', va='center')

# ----- legends -----
def legend(x0, y0, w, h, fs):
    for i, yr in enumerate(YEARS):
        ax.add_patch(Rectangle((x0, y0 + i * h), w, h, fc=COL[yr], ec='none', zorder=5))
        ax.text(x0 + w / 2, y0 + (i + 0.5) * h, str(yr), fontsize=fs, fontweight='bold',
                family=FONT, color='black', ha='center', va='center', zorder=6)


legend(9, 417, 40, 21.1, 9)
legend(12, 1150, 35, 18.2, 7.8)

fig.savefig('out.png', dpi=100, facecolor='white')
